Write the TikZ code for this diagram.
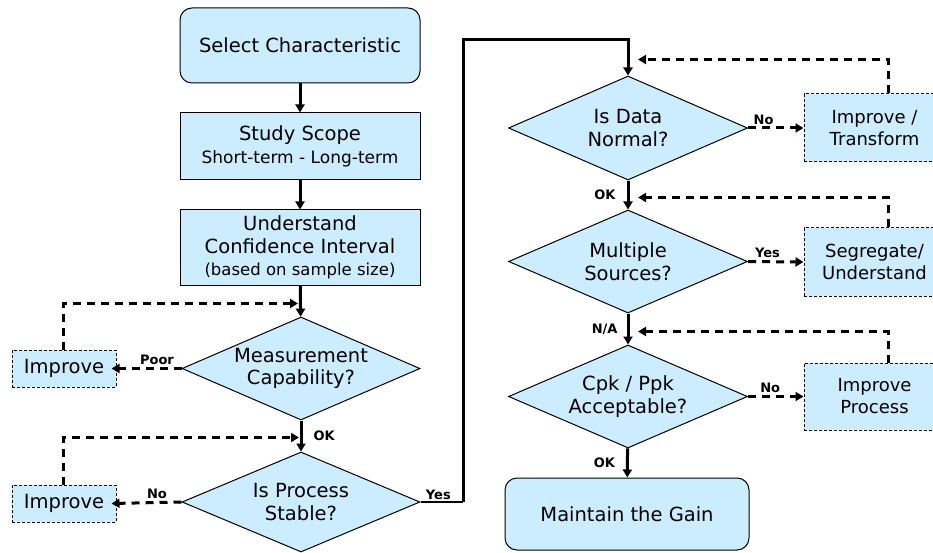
\documentclass[tikz,border=0pt]{standalone}
\usepackage{fontspec}
\setmainfont{DejaVu Sans}
\usetikzlibrary{shapes.geometric,arrows.meta,calc}
\definecolor{boxfill}{RGB}{204,236,255}
\begin{document}
\begin{tikzpicture}[x=1pt,y=-1pt,
  base/.style={draw=black, line width=1pt, fill=boxfill, align=center, inner sep=0pt,
    font=\fontsize{19.5}{22.5}\selectfont},
  procbox/.style={base, rectangle, minimum width=240pt},
  termbox/.style={base, rectangle, rounded corners=12pt},
  decision/.style={base, diamond, aspect=2.3, minimum width=238pt, minimum height=103pt},
  fixbox/.style={base, rectangle, dash pattern=on 3pt off 2pt},
  sidebox/.style={fixbox, minimum width=141pt, font=\fontsize{18}{22}\selectfont},
  flow/.style={line width=3pt, -{Triangle[length=8pt,width=9pt]}},
  retry/.style={line width=3pt, dash pattern=on 8pt off 6pt, -{Triangle[length=8pt,width=9pt]}},
  tag/.style={font=\bfseries\fontsize{13}{15}\selectfont, inner sep=1pt}
]
\useasboundingbox (0,0) rectangle (933,553);
\clip (0,0) rectangle (933,553);

% left column
\node[termbox, minimum width=240pt, minimum height=75pt] (sel) at (300,45.5) {Select Characteristic};
\node[procbox, minimum height=67pt] (scope) at (300,146.5)
  {Study Scope\\{\fontsize{17}{20}\selectfont Short-term - Long-term}};
\node[procbox, minimum height=75pt] (conf) at (300,247.5)
  {Understand\\Confidence Interval\\{\fontsize{16.5}{20}\selectfont (based on sample size)}};
\node[decision] (meas) at (301,368.5) {Measurement\\Capability?};
\node[decision, minimum height=100pt] (stab) at (301,502) {Is Process\\Stable?};
\node[fixbox, minimum width=104pt, minimum height=37pt] (imp1) at (64,368.5) {Improve};
\node[fixbox, minimum width=104pt, minimum height=37pt] (imp2) at (64,503.5) {Improve};

% right column
\node[decision, minimum width=239pt, minimum height=104pt] (norm) at (628,128) {Is Data\\Normal?};
\node[decision, minimum width=239pt] (mult) at (628,261.5) {Multiple\\Sources?};
\node[decision, minimum width=239pt] (cpk) at (628,396.5) {Cpk / Ppk\\Acceptable?};
\node[termbox, minimum width=244pt, minimum height=72pt] (maint) at (627,514) {Maintain the Gain};
\node[sidebox, minimum height=68pt] (imptr) at (874.5,128) {Improve /\\Transform};
\node[sidebox, minimum height=68pt] (seg) at (874.5,262) {Segregate/\\Understand};
\node[sidebox, minimum height=67pt] (impp) at (874.5,396.5) {Improve\\Process};

% main flow
\draw[flow] (sel) -- (scope);
\draw[flow] (scope) -- (conf);
\draw[flow] (conf) -- (meas);
\draw[flow] (meas) -- node[tag, right=10pt] {OK} (stab);
\draw[flow] (norm) -- node[tag, left=10pt] {OK} (mult);
\draw[flow] (mult) -- node[tag, left=8pt] {N/A} (cpk);
\draw[flow] (cpk) -- node[tag, left=10pt] {OK} (maint);

% stable process continues in the right column
\coordinate (r1) at (463,502);
\coordinate (r2) at (463,40);
\draw[line width=1.4pt] (stab.east) -- node[tag, above=1pt, pos=0.42] {Yes} (r1);
\draw[flow] (r1) -- (r2) -- (norm.north |- r2) -- (norm.north);

% improvement side branches
\draw[retry] (meas.west) -- node[tag, above=1pt, pos=0.35] {Poor} ([xshift=-5pt]imp1.east);
\draw[retry] (stab.west) -- node[tag, above=1pt, pos=0.35] {No} ([xshift=-5pt]imp2.east);
\draw[retry] (norm.east) -- node[tag, above=1pt, pos=0.28] {No} (imptr.west);
\draw[retry] (mult.east) -- node[tag, above=1pt, pos=0.35] {Yes} (seg.west);
\draw[retry] (cpk.east) -- node[tag, above=1pt, pos=0.4] {No} (impp.west);

% loops back into the flow
\coordinate (j1) at ([yshift=-18pt]conf.south);
\coordinate (j2) at ([yshift=-17pt]meas.south);
\coordinate (j3) at ([yshift=16pt]norm.north);
\coordinate (j4) at ([yshift=-17pt]norm.south);
\coordinate (j5) at ([yshift=-18pt]mult.south);
\draw[retry] ([xshift=-1pt]imp1.north) |- ([xshift=-2pt]j1);
\draw[retry] ([xshift=-1pt]imp2.north) |- ([xshift=-2pt]j2);
\draw[retry] ([xshift=13.5pt]imptr.north) |- ([xshift=10pt]j3);
\draw[retry] ([xshift=13.5pt]seg.north) |- ([xshift=10pt]j4);
\draw[retry] ([xshift=13.5pt]impp.north) |- ([xshift=10pt]j5);
\end{tikzpicture}
\end{document}
